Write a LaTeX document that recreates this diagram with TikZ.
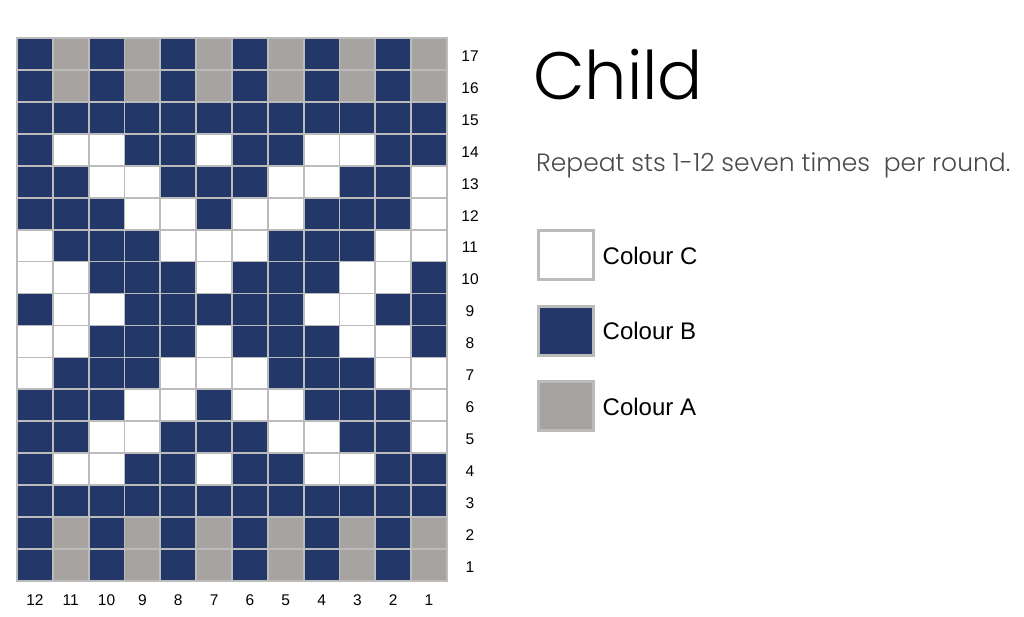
\documentclass[tikz,border=0pt]{standalone}
\usepackage{fontspec}
\setmainfont{Liberation Sans}
\newfontfamily\headfont{Poppins Light}
\usepackage{xcolor}
\usetikzlibrary{positioning, calc}

\definecolor{colB}{HTML}{243769}
\definecolor{colA}{HTML}{A7A3A0}
\definecolor{colC}{HTML}{FFFFFF}
\definecolor{gridgrey}{HTML}{BBBBBB}
\definecolor{notegrey}{HTML}{4A4A4A}

\tikzset{
    cell/.style={draw=gridgrey, line width=1.8pt},
    rowlab/.style={font=\fontsize{15.5}{15.5}\selectfont, inner sep=0pt},
    swatch/.style={draw=gridgrey, line width=3pt, minimum width=55pt, minimum height=49pt, inner sep=0pt},
    swatchlab/.style={font=\fontsize{24}{24}\selectfont, right=8pt of #1, inner sep=0pt}
}

\begin{document}
\begin{tikzpicture}[x=1pt, y=1pt]
                \useasboundingbox (0,0) rectangle (1024,617);

                \foreach \r/\pat in {
                    17/{B,A,B,A,B,A,B,A,B,A,B,A},
                    16/{B,A,B,A,B,A,B,A,B,A,B,A},
                    15/{B,B,B,B,B,B,B,B,B,B,B,B},
                    14/{B,C,C,B,B,C,B,B,C,C,B,B},
                    13/{B,B,C,C,B,B,B,C,C,B,B,C},
                    12/{B,B,B,C,C,B,C,C,B,B,B,C},
                    11/{C,B,B,B,C,C,C,B,B,B,C,C},
                    10/{C,C,B,B,B,C,B,B,B,C,C,B},
                    9/{B,C,C,B,B,B,B,B,C,C,B,B},
                    8/{C,C,B,B,B,C,B,B,B,C,C,B},
                    7/{C,B,B,B,C,C,C,B,B,B,C,C},
                    6/{B,B,B,C,C,B,C,C,B,B,B,C},
                    5/{B,B,C,C,B,B,B,C,C,B,B,C},
                    4/{B,C,C,B,B,C,B,B,C,C,B,B},
                    3/{B,B,B,B,B,B,B,B,B,B,B,B},
                    2/{B,A,B,A,B,A,B,A,B,A,B,A},
                    1/{B,A,B,A,B,A,B,A,B,A,B,A}%
                } {
                    \foreach \c [count=\i] in \pat {
                        \draw[cell, fill=col\c]
                            ({17+(\i-1)*35.83},{36+(\r-1)*31.94}) rectangle ++(35.83,31.94);
                    }
                    \node[rowlab] (row\r) at (470,{34+(\r-0.5)*31.94}) {\r};
                }

                \foreach \i in {1,...,12} {
                    \pgfmathtruncatemacro{\st}{13-\i}
                    \node[rowlab] (st\st) at ({17+(\i-0.5)*35.83},17) {\st};
                }

                \node[anchor=base west, inner sep=0pt, font=\headfont\fontsize{67}{67}\selectfont] (title) at (533,517) {Child};
                \node[anchor=base west, inner sep=0pt, text=notegrey, font=\headfont\fontsize{25}{25}\selectfont] (note) at (536,445) {Repeat sts 1-12 seven times\ \ per round.};

                \node[swatch, fill=colC] (keyC) at (565.5,361.5) {};
                \node[swatch, fill=colB] (keyB) at (565.5,286) {};
                \node[swatch, fill=colA] (keyA) at (565.5,210.5) {};
                \node[swatchlab=keyC] (labC) {Colour C};
                \node[swatchlab=keyB] (labB) {Colour B};
                \node[swatchlab=keyA] (labA) {Colour A};

            \end{tikzpicture}
\end{document}
